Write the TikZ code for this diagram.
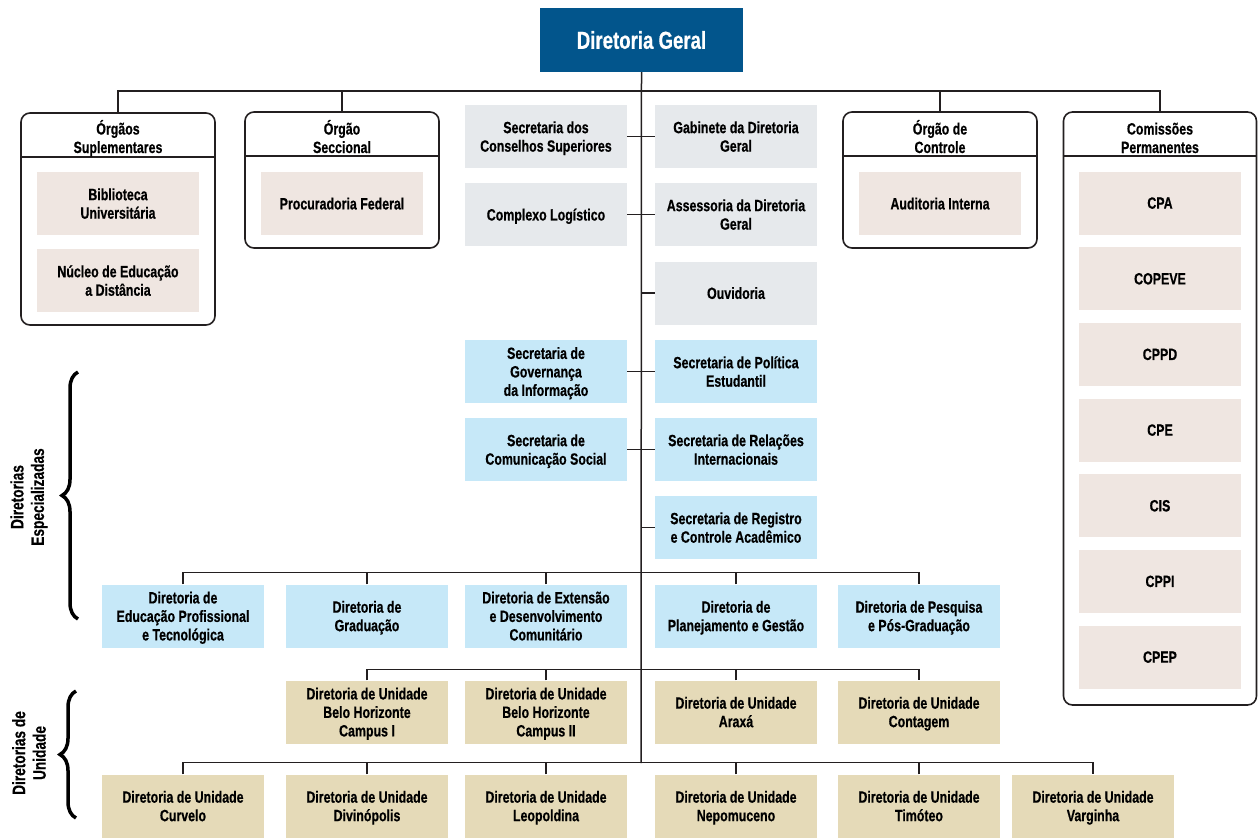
\documentclass[tikz,border=0pt]{standalone}
\usepackage{fontspec}
\newfontfamily\cf{Liberation Sans}[FakeStretch=0.76,FakeBold=0.6]
\usetikzlibrary{decorations.pathreplacing}
\definecolor{linec}{HTML}{231F20}
\definecolor{titlec}{HTML}{02558C}
\definecolor{grayc}{HTML}{E6E9EC}
\definecolor{bluec}{HTML}{C6E8F8}
\definecolor{pinkc}{HTML}{EFE6E1}
\definecolor{tanc}{HTML}{E5DAB8}
\newcommand{\boxfont}{\cf\bfseries\fontsize{16.3}{18.5}\selectfont}
\begin{document}
\begin{tikzpicture}[x=1pt,y=-1pt,
  ln/.style={draw=linec,line width=1.5pt},
  unitbox/.style={minimum width=162pt,minimum height=63pt,inner sep=0pt,align=center,font=\boxfont,text=black,text depth=0pt},
  graybox/.style={unitbox,fill=grayc},
  bluebox/.style={unitbox,fill=bluec},
  pinkbox/.style={unitbox,fill=pinkc},
  tanbox/.style={unitbox,fill=tanc},
  grp/.style={draw=linec,line width=1.6pt,rounded corners=9pt,fill=white,inner sep=0pt,minimum width=194pt},
  hdr/.style={align=center,font=\boxfont,inner sep=0pt,anchor=base},
  titlebox/.style={fill=titlec,minimum width=203pt,minimum height=64pt,inner sep=0pt,text=white,font=\cf\bfseries\fontsize{24.5}{27}\selectfont},
  bracestyle/.style={draw=black,line width=3.5pt,decorate,decoration={brace,amplitude=16pt}},
  sidelabel/.style={rotate=90,align=center,inner sep=0pt,font=\cf\bfseries\fontsize{18}{20.5}\selectfont}
]
\useasboundingbox (0,0) rectangle (1258,838);

% top node
\node[titlebox] (dg) at (641.5,40) {Diretoria Geral};

% hub / spine coordinates
\coordinate (hub) at (641,91);
\coordinate (spineend) at (641,763);

% groups
\node[grp,minimum height=212pt] (sup) at (118,219) {};
\node[grp,minimum height=136pt] (sec) at (342,180) {};
\node[grp,minimum height=136pt] (ctl) at (940,180) {};
\node[grp,minimum height=593pt,minimum width=193pt] (cmp) at (1160,408.5) {};

% connectors at top
\draw[ln] (dg.south) -- (spineend);
\draw[ln] (sup.north) |- (hub) -| (cmp.north);
\draw[ln] (sec.north) -- (sec.north |- hub);
\draw[ln] (ctl.north) -- (ctl.north |- hub);

% headers
\foreach \g in {sup,sec,ctl,cmp}{
  \path (\g.north west) ++(0,45) coordinate (\g d);
  \draw[ln] (\g d) -- (\g d -| \g.east);
}
\node[hdr] (suph) at (118,153) {Órgãos\\Suplementares};
\node[hdr] (sech) at (342,153) {Órgão\\Seccional};
\node[hdr] (ctlh) at (940,153) {Órgão de\\Controle};
\node[hdr] (cmph) at (1160,153) {Comissões\\Permanentes};

% group contents
\node[pinkbox] (bib) at (118,203.5) {Biblioteca\\Universitária};
\node[pinkbox] (nead) at (118,280.5) {Núcleo de Educação\\a Distância};
\node[pinkbox] (proc) at (342,203.5) {Procuradoria Federal};
\node[pinkbox] (aud) at (940,203.5) {Auditoria Interna};
\node[pinkbox] (cpa) at (1160,203) {CPA};
\node[pinkbox] (copeve) at (1160,278.7) {COPEVE};
\node[pinkbox] (cppd) at (1160,354.3) {CPPD};
\node[pinkbox] (cpe) at (1160,430) {CPE};
\node[pinkbox] (cis) at (1160,505.7) {CIS};
\node[pinkbox] (cppi) at (1160,581.3) {CPPI};
\node[pinkbox] (cpep) at (1160,657) {CPEP};

% gray secretariats
\node[graybox] (scs) at (546,136.5) {Secretaria dos\\Conselhos Superiores};
\node[graybox] (gab) at (736,136.5) {Gabinete da Diretoria\\Geral};
\node[graybox] (clog) at (546,214.5) {Complexo Logístico};
\node[graybox] (ass) at (736,214.5) {Assessoria da Diretoria\\Geral};
\node[graybox] (ouv) at (736,293) {Ouvidoria};
\draw[ln] (scs.east) -- (gab.west);
\draw[ln] (clog.east) -- (ass.west);
\draw[ln] (ouv.west) -- (ouv.west -| dg.south);

% blue secretariats
\node[bluebox] (gov) at (546,371.5) {Secretaria de\\Governança\\da Informação};
\node[bluebox] (pol) at (736,371.5) {Secretaria de Política\\Estudantil};
\node[bluebox] (com) at (546,449.5) {Secretaria de\\Comunicação Social};
\node[bluebox] (rel) at (736,449.5) {Secretaria de Relações\\Internacionais};
\node[bluebox] (reg) at (736,527.5) {Secretaria de Registro\\e Controle Acadêmico};
\draw[ln] (gov.east) -- (pol.west);
\draw[ln] (com.east) -- (rel.west);
\draw[ln] (reg.west) -- (reg.west -| dg.south);

% directorates
\node[bluebox] (dept) at (183,616) {Diretoria de\\Educação Profissional\\e Tecnológica};
\node[bluebox] (dgrad) at (367,616) {Diretoria de\\Graduação};
\node[bluebox] (dext) at (546,616) {Diretoria de Extensão\\e Desenvolvimento\\Comunitário};
\node[bluebox] (dplan) at (736,616) {Diretoria de\\Planejamento e Gestão};
\node[bluebox] (dpesq) at (919,616) {Diretoria de Pesquisa\\e Pós-Graduação};
\draw[ln] (dept.north) -- ++(0,-12) -| (dpesq.north);
\foreach \n in {dgrad,dext,dplan}{\draw[ln] (\n.north) -- ++(0,-12);}

% unit directorates row 1
\node[tanbox] (bh1) at (367,712) {Diretoria de Unidade\\Belo Horizonte\\Campus I};
\node[tanbox] (bh2) at (546,712) {Diretoria de Unidade\\Belo Horizonte\\Campus II};
\node[tanbox] (arx) at (736,712) {Diretoria de Unidade\\Araxá};
\node[tanbox] (cont) at (919,712) {Diretoria de Unidade\\Contagem};
\draw[ln] (bh1.north) -- ++(0,-11) -| (cont.north);
\foreach \n in {bh2,arx}{\draw[ln] (\n.north) -- ++(0,-11);}

% unit directorates row 2
\node[tanbox] (curv) at (183,806) {Diretoria de Unidade\\Curvelo};
\node[tanbox] (divi) at (367,806) {Diretoria de Unidade\\Divinópolis};
\node[tanbox] (leo) at (546,806) {Diretoria de Unidade\\Leopoldina};
\node[tanbox] (nep) at (736,806) {Diretoria de Unidade\\Nepomuceno};
\node[tanbox] (tim) at (919,806) {Diretoria de Unidade\\Timóteo};
\node[tanbox] (varg) at (1093,806) {Diretoria de Unidade\\Varginha};
\draw[ln] (curv.north) -- ++(0,-12) -| (varg.north);
\foreach \n in {divi,leo,nep,tim}{\draw[ln] (\n.north) -- ++(0,-12);}

% braces and side labels
\coordinate (b1a) at (78,619);
\coordinate (b1b) at (78,372);
\draw[bracestyle] (b1a) -- (b1b);
\node[sidelabel] (lesp) at (29,497) {Diretorias\\Especializadas};
\coordinate (b2a) at (76,818);
\coordinate (b2b) at (76,691);
\draw[bracestyle] (b2a) -- (b2b);
\node[sidelabel] (luni) at (29,753) {Diretorias de\\Unidade};
\end{tikzpicture}
\end{document}
